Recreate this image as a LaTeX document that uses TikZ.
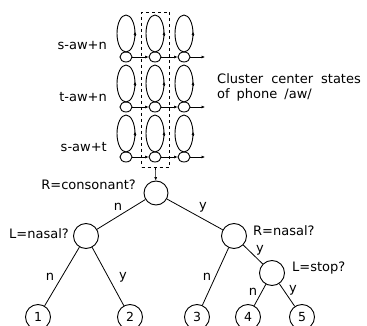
\documentclass[tikz,border=0pt]{standalone}
\usepackage{fontspec}
\setmainfont{DejaVu Sans}
\usetikzlibrary{shapes.geometric,arrows.meta}
\begin{document}
\begin{tikzpicture}[x=1pt,y=-1pt,
  lw/.style={line width=0.9pt},
  st/.style={ellipse,draw,lw,minimum width=12pt,minimum height=10pt,inner sep=0pt},
  loop/.style={lw},
  tr/.style={-{Latex[length=3.5pt,width=3pt]},line width=0.6pt},
  q/.style={circle,draw,lw,minimum size=25pt,inner sep=0pt},
  leaf/.style={circle,draw,lw,minimum size=25pt,inner sep=0pt,font=\fontsize{12.5}{14}\selectfont},
  txt/.style={font=\fontsize{13}{15}\selectfont,inner sep=0pt},
  el/.style={font=\fontsize{13}{15}\selectfont,inner sep=0pt},
  edge/.style={line width=0.8pt}]
\useasboundingbox (0,0) rectangle (367,326);
% HMM states
\foreach \r/\y in {1/57,2/107,3/157}{
  \foreach \c/\x in {1/126,2/155,3/184}{
    \node[st] (s\r\c) at (\x,\y) {};
    \draw[loop] (\x,\y-23.5) ellipse (9 and 18.5);
    \draw[-{Latex[length=3.5pt,width=3pt]},line width=0.6pt] (\x+9,\y-22) -- (\x+9,\y-25.5);
  }
  \coordinate (e\r) at (205,\y);
  \draw[tr] (s\r1) -- (s\r2);
  \draw[tr] (s\r2) -- (s\r3);
  \draw[tr] (s\r3) -- (e\r);
}
\node[txt,anchor=east] (l1) at (107,46) {s-aw+n};
\node[txt,anchor=east] (l2) at (107,97) {t-aw+n};
\node[txt,anchor=east] (l3) at (107,147) {s-aw+t};
\node[draw,dashed,line width=0.8pt,minimum width=28pt,minimum height=155pt,inner sep=0pt] (box) at (155.5,89.5) {};
\node[txt,anchor=north west,align=left] (cl) at (217,73) {Cluster\hspace{8pt}center\hspace{8pt}states\\[0pt]of\hspace{7pt}phone\hspace{7pt}/aw/};
% tree
\node[q,minimum size=24pt] (root) at (156,193) {};
\draw[tr] (box.south) -- (root);
\node[txt,anchor=east] (rq) at (136,185) {R=consonant?};
\node[q] (ln) at (86,236) {};
\node[txt,anchor=east] (lq) at (69,234) {L=nasal?};
\node[q] (rn) at (234,236) {};
\node[txt,anchor=west] (rnq) at (253,231) {R=nasal?};
\node[q] (ls) at (272,273) {};
\node[txt,anchor=west] (lsq) at (292,268) {L=stop?};
\node[leaf] (o1) at (38,317) {1};
\node[leaf] (o2) at (130,317) {2};
\node[leaf] (o3) at (197,317) {3};
\node[leaf] (o4) at (248,317) {4};
\node[leaf] (o5) at (302,317) {5};
\draw[edge] (root) -- (ln);
\draw[edge] (root) -- (rn);
\draw[edge] (ln) -- (o1);
\draw[edge] (ln) -- (o2);
\draw[edge] (rn) -- (o3);
\draw[edge] (rn) -- (ls);
\draw[edge] (ls) -- (o4);
\draw[edge] (ls) -- (o5);
\node[el] (n1) at (118,207) {n};
\node[el] (y1) at (203,207) {y};
\node[el] (n2) at (50,277) {n};
\node[el] (y2) at (123,277) {y};
\node[el] (n3) at (207,277) {n};
\node[el] (y3) at (260,250) {y};
\node[el] (n4) at (253,292) {n};
\node[el] (y4) at (293,290) {y};
\end{tikzpicture}
\end{document}
